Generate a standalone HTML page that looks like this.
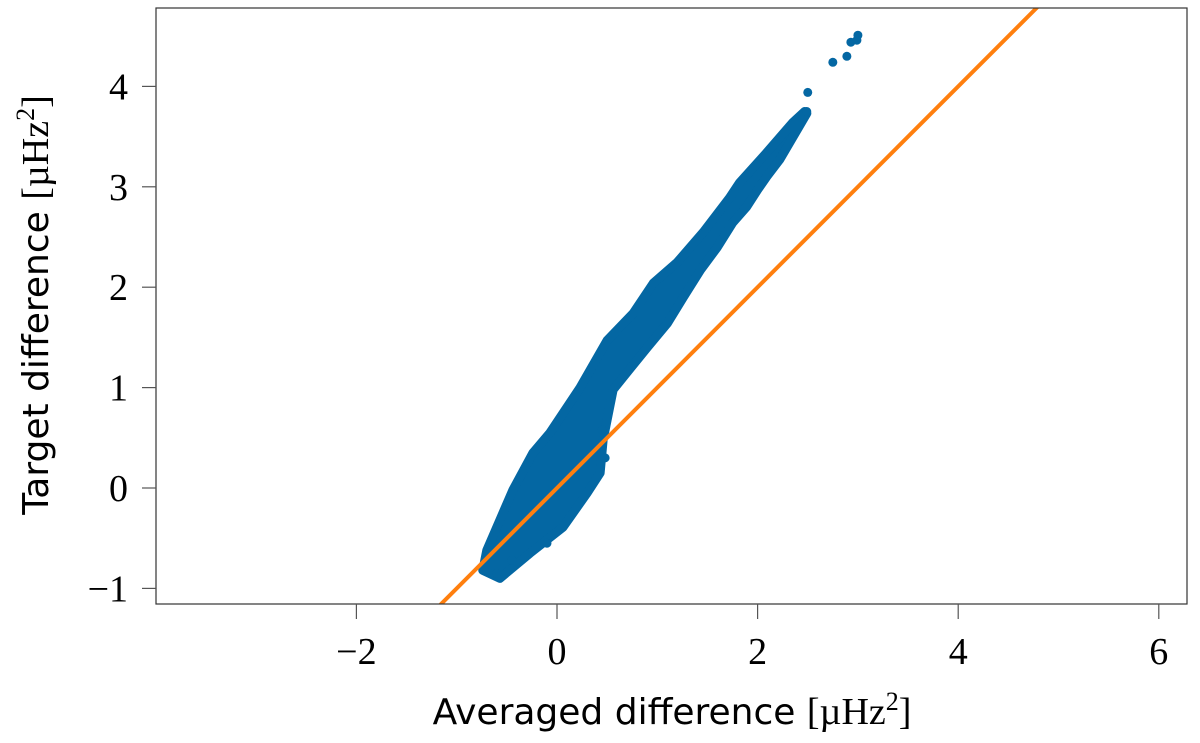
<!DOCTYPE html>
<html><head><meta charset="utf-8">
<style>
html,body{margin:0;padding:0;background:#fff;}
svg text{font-family:"Liberation Serif",serif;}
.sans{font-family:"DejaVu Sans","Liberation Sans",sans-serif;}
</style></head>
<body>
<svg id="chart" width="1200" height="738" viewBox="0 0 1200 738" xmlns="http://www.w3.org/2000/svg">
<g id="plot"></g>
<rect x="156" y="8" width="1031" height="596" fill="none" stroke="#333" stroke-width="1.2"/>
<g id="xticks"></g>
<g id="yticks"></g>
<text x="672" y="724" text-anchor="middle" font-size="36"><tspan class="sans">Averaged difference </tspan><tspan font-size="38">[µHz</tspan><tspan font-size="26" dy="-14">2</tspan><tspan dy="14" font-size="38">]</tspan></text>
<text transform="translate(48,305) rotate(-90)" text-anchor="middle" font-size="36"><tspan class="sans">Target difference </tspan><tspan font-size="38">[µHz</tspan><tspan font-size="26" dy="-14">2</tspan><tspan dy="14" font-size="38">]</tspan></text>
</svg>
<script>
const xTicks=[-2,0,2,4,6];
const yTicks=[-1,0,1,2,3,4];
const bandUpperX=[-0.74,-0.7,-0.57,-0.44,-0.24,-0.07,0.23,0.5,0.76,0.96,1.2,1.46,1.72,1.82,2.09,2.35,2.47];
const bandUpperY=[-0.82,-0.62,-0.32,-0.02,0.35,0.55,1.0,1.47,1.74,2.04,2.25,2.55,2.89,3.04,3.34,3.64,3.75];
const bandLowerX=[2.49,2.32,2.22,2.09,2.0,1.89,1.75,1.6,1.43,1.26,1.1,0.9,0.56,0.46,0.43,0.3,0.06,-0.27,-0.57];
const bandLowerY=[3.73,3.44,3.27,3.1,2.97,2.8,2.64,2.4,2.17,1.9,1.64,1.4,0.98,0.48,0.15,-0.05,-0.39,-0.65,-0.9];
const outlierX=[2.5,2.49,2.75,2.89,2.93,3.0,2.99,0.45,0.48,-0.6,-0.45,-0.1];
const outlierY=[3.94,3.75,4.24,4.3,4.44,4.51,4.46,0.58,0.3,-0.85,-0.72,-0.55];
const lineX=[-1.2,5];
const lineY=[-1.2,5];
const NS='http://www.w3.org/2000/svg';
const X0=557,XS=100.3,Y0=488,YS=100.4;
const sx=v=>X0+v*XS, sy=v=>Y0-v*YS;
const plot=document.getElementById('plot');
function mk(t,a){const e=document.createElementNS(NS,t);for(const k in a)e.setAttribute(k,a[k]);return e;}
const clip=mk('clipPath',{id:'cp'});clip.appendChild(mk('rect',{x:156,y:8,width:1031,height:596}));
document.getElementById('chart').appendChild(clip);
plot.setAttribute('clip-path','url(#cp)');
let pts=[];
for(let i=0;i<bandUpperX.length;i++)pts.push(sx(bandUpperX[i])+','+sy(bandUpperY[i]));
for(let i=0;i<bandLowerX.length;i++)pts.push(sx(bandLowerX[i])+','+sy(bandLowerY[i]));
const band=mk('polygon',{points:pts.join(' '),fill:'#0467a3',stroke:'#0467a3','stroke-width':9,'stroke-linejoin':'round'});


plot.appendChild(band);
for(let i=0;i<outlierX.length;i++){
 const c=mk('circle',{cx:sx(outlierX[i]),cy:sy(outlierY[i]),r:4.5,fill:'#0467a3'});
 
 
 plot.appendChild(c);
}
const ln=mk('line',{x1:sx(lineX[0]),y1:sy(lineY[0]),x2:sx(lineX[1]),y2:sy(lineY[1]),stroke:'#ff7f0e','stroke-width':4});


plot.appendChild(ln);
const xg=document.getElementById('xticks'),yg=document.getElementById('yticks');
xTicks.forEach(v=>{
 const t=mk('line',{x1:sx(v),x2:sx(v),y1:604,y2:619,stroke:'#555','stroke-width':1.2});
 
 
 xg.appendChild(t);
 const l=mk('text',{x:sx(v),y:664,'text-anchor':'middle','font-size':38});
 
 
 l.textContent=(v<0?'\u2212':'')+Math.abs(v);xg.appendChild(l);
});
yTicks.forEach(v=>{
 const t=mk('line',{x1:142,x2:156,y1:sy(v),y2:sy(v),stroke:'#555','stroke-width':1.2});
 
 
 yg.appendChild(t);
 const l=mk('text',{x:128,y:sy(v)+13,'text-anchor':'end','font-size':38});
 
 
 l.textContent=(v<0?'\u2212':'')+Math.abs(v);yg.appendChild(l);
});
</script>
</body></html>
